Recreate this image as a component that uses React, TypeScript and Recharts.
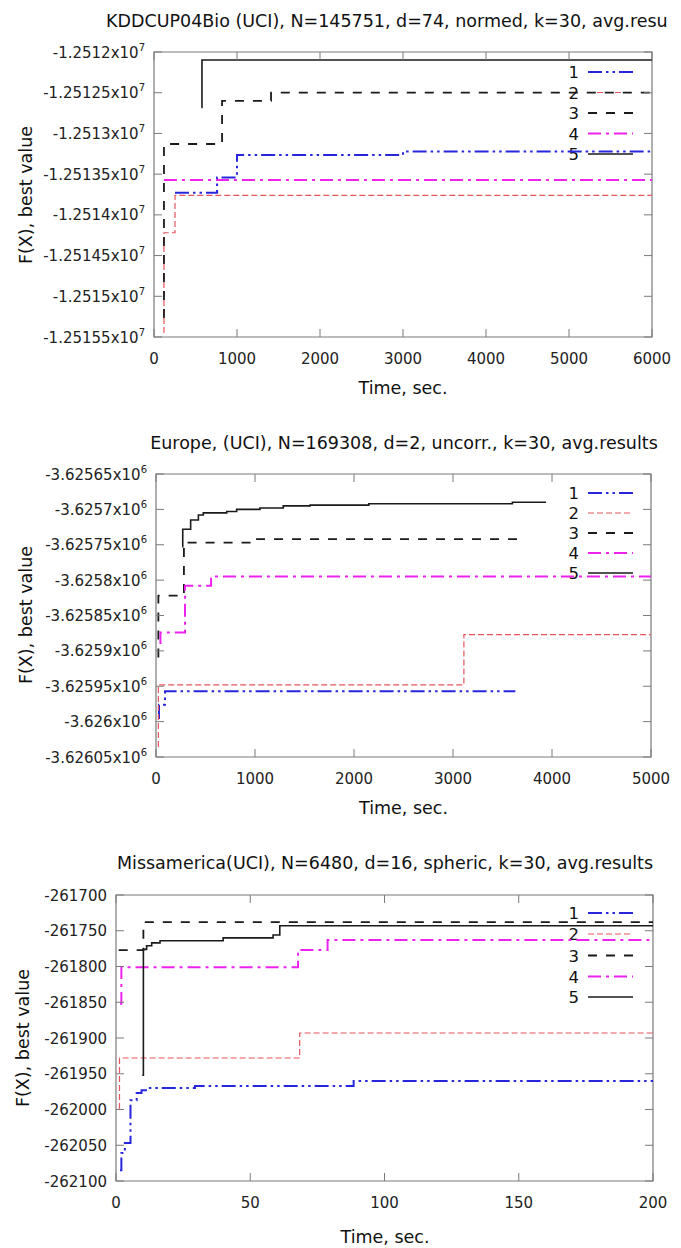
import React from 'react';
import { LineChart, Line, XAxis, YAxis, ReferenceArea } from 'recharts';

const FONT = '"DejaVu Sans", Verdana, sans-serif';
const FRAME = '#7a7a7a';

// ---------- Panel 1: KDDCUP04Bio ----------
const kddTitle = 'KDDCUP04Bio (UCI), N=145751, d=74, normed, k=30, avg.resu';
const kddTicksX = [0, 1000, 2000, 3000, 4000, 5000, 6000];
const kddTicksY = [-12515500, -12515000, -12514500, -12514000, -12513500, -12513000, -12512500, -12512000];
const kdd1 = [
  { t: 253, v: -12513730 }, { t: 760, v: -12513540 }, { t: 1000, v: -12513265 },
  { t: 3000, v: -12513222 }, { t: 6000, v: -12513222 },
];
const kdd2 = [
  { t: 110, v: -12515440 }, { t: 120, v: -12514220 }, { t: 253, v: -12513760 }, { t: 6000, v: -12513760 },
];
const kdd3 = [
  { t: 110, v: -12515255 }, { t: 120, v: -12513130 }, { t: 820, v: -12512600 },
  { t: 1410, v: -12512500 }, { t: 6000, v: -12512500 },
];
const kdd4 = [{ t: 120, v: -12513572 }, { t: 6000, v: -12513572 }];
const kdd5 = [{ t: 570, v: -12512680 }, { t: 578, v: -12512098 }, { t: 6000, v: -12512098 }];

// ---------- Panel 2: Europe ----------
const euTitle = 'Europe, (UCI), N=169308, d=2, uncorr., k=30, avg.results';
const euTicksX = [0, 1000, 2000, 3000, 4000, 5000];
const euTicksY = [-3626050, -3626000, -3625950, -3625900, -3625850, -3625800, -3625750, -3625700, -3625650];
const eu1 = [
  { t: 25, v: -3625995 }, { t: 30, v: -3625976 }, { t: 91, v: -3625957 }, { t: 3630, v: -3625957 },
];
const eu2 = [
  { t: 18, v: -3626035 }, { t: 24, v: -3625948 }, { t: 3110, v: -3625877 }, { t: 5000, v: -3625877 },
];
const eu3 = [
  { t: 15, v: -3625908 }, { t: 24, v: -3625822 }, { t: 282, v: -3625747 },
  { t: 1020, v: -3625742 }, { t: 3680, v: -3625742 },
];
const eu4 = [
  { t: 35, v: -3625889 }, { t: 45, v: -3625874 }, { t: 293, v: -3625808 },
  { t: 556, v: -3625795 }, { t: 5000, v: -3625795 },
];
const eu5 = [
  { t: 266, v: -3625753 }, { t: 270, v: -3625728 }, { t: 350, v: -3625715 }, { t: 428, v: -3625708 },
  { t: 478, v: -3625705 }, { t: 714, v: -3625703 }, { t: 815, v: -3625700 }, { t: 1050, v: -3625698 },
  { t: 1286, v: -3625695 }, { t: 1556, v: -3625694 }, { t: 2150, v: -3625692 }, { t: 3600, v: -3625690 },
  { t: 3940, v: -3625690 },
];

// ---------- Panel 3: Missamerica ----------
const msTitle = 'Missamerica(UCI), N=6480, d=16, spheric, k=30, avg.results';
const msTicksX = [0, 50, 100, 150, 200];
const msTicksY = [-262100, -262050, -262000, -261950, -261900, -261850, -261800, -261750, -261700];
const ms1 = [
  { t: 1.5, v: -262085 }, { t: 2, v: -262061 }, { t: 3.3, v: -262047 }, { t: 5.4, v: -261987 },
  { t: 7.7, v: -261977 }, { t: 9.5, v: -261973 }, { t: 12, v: -261970 }, { t: 29.4, v: -261967 },
  { t: 88.5, v: -261960 }, { t: 200, v: -261960 },
];
const ms2 = [{ t: 1, v: -261998 }, { t: 1.3, v: -261928 }, { t: 68.4, v: -261893 }, { t: 200, v: -261893 }];
const ms3 = [{ t: 1, v: -261777 }, { t: 10.2, v: -261738 }, { t: 200, v: -261738 }];
const ms4 = [
  { t: 1.5, v: -261852 }, { t: 2, v: -261801 }, { t: 67.8, v: -261777 }, { t: 78.8, v: -261763 },
  { t: 200, v: -261763 },
];
const ms5 = [
  { t: 9.8, v: -261952 }, { t: 10.2, v: -261776 }, { t: 11.4, v: -261771 }, { t: 13.3, v: -261767 },
  { t: 16.4, v: -261764 }, { t: 39.9, v: -261760 }, { t: 58.5, v: -261756 }, { t: 61, v: -261743 },
  { t: 200, v: -261742 },
];

const legendLabels = ['1', '2', '3', '4', '5'];

// series styles
const STYLES = [
  { stroke: '#2626dc', dash: '14 4 2.5 4 2.5 4', width: 2 },
  { stroke: '#e6555b', dash: '6 3', width: 1.2 },
  { stroke: '#1a1a1a', dash: '9 9', width: 1.8 },
  { stroke: '#ee22ee', dash: '13 5 3 5', width: 2 },
  { stroke: '#1a1a1a', dash: undefined as string | undefined, width: 1.6 },
];

type Pt = { t: number; v: number };

interface PanelCfg {
  top: number;
  height: number;
  L: number;
  R: number;
  T: number;
  B: number;
  xTicks: number[];
  yTicks: number[];
  exp: number | null;
  series: Pt[][];
}

const W = 681;

function fmtMant(v: number, exp: number | null): string {
  if (exp === null) return String(v);
  return String(parseFloat((v / Math.pow(10, exp)).toFixed(7)));
}

function Panel({ cfg }: { cfg: PanelCfg }) {
  const { L, R, T, B, height, exp } = cfg;
  const xDom = [cfg.xTicks[0], cfg.xTicks[cfg.xTicks.length - 1]];
  const yDom = [cfg.yTicks[0], cfg.yTicks[cfg.yTicks.length - 1]];

  const YTick = (props: any) => {
    const y = props.y;
    const v = props.payload.value;
    return (
      <g>
        <line x1={L} x2={L + 8} y1={y} y2={y} stroke={FRAME} strokeWidth={1} />
        <line x1={R - 8} x2={R} y1={y} y2={y} stroke={FRAME} strokeWidth={1} />
        <text x={L - 9} y={y + 5.5} textAnchor="end" fontSize={15} fontFamily={FONT} fill="#222">
          {fmtMant(v, exp)}
          {exp !== null ? 'x10' : ''}
          {exp !== null ? (
            <tspan dy={-7} fontSize={10}>
              {exp}
            </tspan>
          ) : null}
        </text>
      </g>
    );
  };

  const XTick = (props: any) => {
    const x = props.x;
    const v = props.payload.value;
    return (
      <g>
        <line x1={x} x2={x} y1={B} y2={B - 8} stroke={FRAME} strokeWidth={1} />
        <line x1={x} x2={x} y1={T} y2={T + 8} stroke={FRAME} strokeWidth={1} />
        <text x={x} y={B + 27} textAnchor="middle" fontSize={15} fontFamily={FONT} fill="#222">
          {v}
        </text>
      </g>
    );
  };

  return (
    <div style={{ position: 'absolute', left: 0, top: cfg.top, width: W, height }}>
      <LineChart
        width={W}
        height={height}
        margin={{ top: T, right: W - R, left: 0, bottom: 0 }}
      >
        <XAxis
          dataKey="t"
          type="number"
          domain={xDom}
          ticks={cfg.xTicks}
          interval={0}
          height={height - B}
          axisLine={false}
          tickLine={false}
          tick={<XTick />}
          allowDataOverflow
        />
        <YAxis
          dataKey="v"
          type="number"
          domain={yDom}
          ticks={cfg.yTicks}
          interval={0}
          width={L}
          axisLine={false}
          tickLine={false}
          tick={<YTick />}
          allowDataOverflow
        />
        <ReferenceArea
          x1={xDom[0]}
          x2={xDom[1]}
          y1={yDom[0]}
          y2={yDom[1]}
          fill="none"
          fillOpacity={0}
          stroke={FRAME}
          strokeWidth={1.2}
        />
        {cfg.series.map((d, i) => (
          <Line
            key={i}
            data={d}
            dataKey="v"
            type="stepAfter"
            stroke={STYLES[i].stroke}
            strokeWidth={STYLES[i].width}
            strokeDasharray={STYLES[i].dash}
            dot={false}
            activeDot={false}
            isAnimationActive={false}
          />
        ))}
      </LineChart>
    </div>
  );
}

const panels: PanelCfg[] = [
  { top: 0, height: 410, L: 154, R: 652, T: 52, B: 337, xTicks: kddTicksX, yTicks: kddTicksY, exp: 7, series: [kdd1, kdd2, kdd3, kdd4, kdd5] },
  { top: 420, height: 410, L: 156, R: 651, T: 54, B: 337, xTicks: euTicksX, yTicks: euTicksY, exp: 6, series: [eu1, eu2, eu3, eu4, eu5] },
  { top: 840, height: 408, L: 116, R: 653, T: 55, B: 341, xTicks: msTicksX, yTicks: msTicksY, exp: null, series: [ms1, ms2, ms3, ms4, ms5] },
];

const legendRows = [
  [72, 92.5, 113, 133.5, 154],
  [493, 513, 533, 553, 573],
  [913, 934, 955.5, 976.5, 997],
];

function Overlay() {
  const txt = { fontFamily: FONT, fill: '#111' } as const;
  return (
    <svg width={W} height={1248} style={{ position: 'absolute', left: 0, top: 0 }}>
      <text x={106} y={26.5} fontSize={17.5} {...txt}>{kddTitle}</text>
      <text x={404} y={448.5} fontSize={17.5} textAnchor="middle" {...txt}>{euTitle}</text>
      <text x={385} y={868.5} fontSize={17.5} textAnchor="middle" {...txt}>{msTitle}</text>

      <text x={403} y={394} fontSize={17.5} textAnchor="middle" {...txt}>Time, sec.</text>
      <text x={403.5} y={814} fontSize={17.5} textAnchor="middle" {...txt}>Time, sec.</text>
      <text x={385} y={1243} fontSize={17.5} textAnchor="middle" {...txt}>Time, sec.</text>

      {[[26, 195], [26, 615], [23, 1038]].map(([x, y], i) => (
        <text
          key={i}
          x={x}
          y={y}
          fontSize={17.5}
          textAnchor="middle"
          dominantBaseline="central"
          transform={`rotate(-90 ${x} ${y})`}
          {...txt}
        >
          F(X), best value
        </text>
      ))}

      {legendRows.map((rows, p) =>
        rows.map((y, i) => (
          <g key={`${p}-${i}`}>
            <text x={579} y={y + 6} fontSize={16.5} textAnchor="end" {...txt}>
              {legendLabels[i]}
            </text>
            <line
              x1={588}
              x2={633}
              y1={y}
              y2={y}
              stroke={STYLES[i].stroke}
              strokeWidth={STYLES[i].width}
              strokeDasharray={STYLES[i].dash}
            />
          </g>
        ))
      )}
    </svg>
  );
}

export default function App() {
  return (
    <div style={{ position: 'absolute', left: 0, top: 0, width: W, height: 1248, background: '#fff' }}>
      <Overlay />
      {panels.map((p, i) => (
        <Panel key={i} cfg={p} />
      ))}
    </div>
  );
}
